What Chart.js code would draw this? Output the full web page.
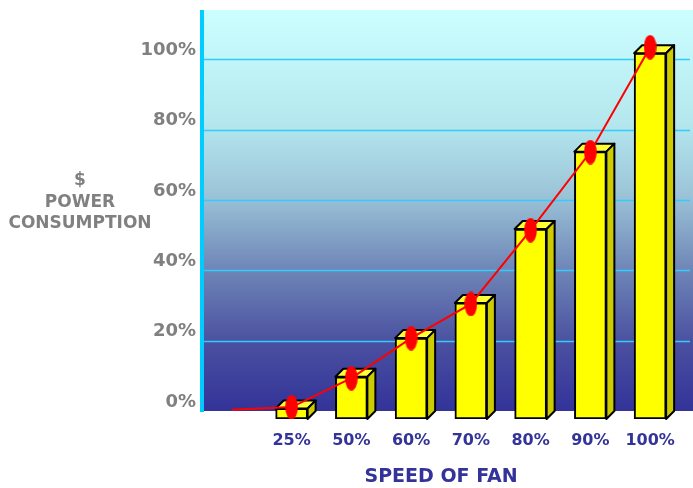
<!DOCTYPE html>
<html lang="en">
  <head>
    <meta charset="UTF-8" />
    <title>Power consumption vs speed of fan</title>
    <style>
      body {
        margin: 0;
        background: white;
      }
      .wrap {
        width: 693px;
        height: 488px;
      }
    </style>
  </head>
  <body>
    <div class="wrap"><canvas id="fanChart" width="693" height="488"></canvas></div>

    <script src="https://cdn.jsdelivr.net/npm/chart.js"></script>
    <script>
      // Fan speed categories (first slot is where the curve starts)
      const speedLabels = ["", "25%", "50%", "60%", "70%", "80%", "90%", "100%"];
      // Bar heights (power consumption, %)
      const barValues = [null, 3, 12, 23, 33, 54, 76, 104];
      // Red curve through the bar tops
      const curveValues = [2.6, 3.4, 11.6, 23, 32.7, 53.7, 75.9, 105.7];
      // Axis ticks
      const yTicks = [0, 20, 40, 60, 80, 100];
      const yMax = 114;
      const yTitleLines = ["$", "POWER", "CONSUMPTION"];

      const DEPTH = 8;
      const GREY = "#808080";
      const NAVY = "#333399";

      // red oval marker
      const marker = document.createElement("canvas");
      marker.width = 13;
      marker.height = 25;
      const mctx = marker.getContext("2d");
      mctx.fillStyle = "#ff0000";
      mctx.beginPath();
      mctx.ellipse(6.5, 12.5, 6.3, 12.3, 0, 0, Math.PI * 2);
      mctx.fill();

      // back wall: gradient, gridlines, cyan axis line, axis title
      const wallPlugin = {
        id: "wall",
        beforeDatasetsDraw(chart) {
          const { ctx, chartArea } = chart;
          const y = chart.scales.y;
          const top = chartArea.top - DEPTH;
          const bottom = chartArea.bottom - DEPTH;
          ctx.save();
          const g = ctx.createLinearGradient(0, top, 0, bottom);
          g.addColorStop(0, "#ccffff");
          g.addColorStop(0.28, "#b4e8ee");
          g.addColorStop(0.46, "#9cc4d8");
          g.addColorStop(0.64, "#7088b8");
          g.addColorStop(0.83, "#4a50a0");
          g.addColorStop(1, "#333399");
          ctx.fillStyle = g;
          ctx.fillRect(chartArea.left, top, chart.width - chartArea.left, bottom - top);

          ctx.strokeStyle = "#33ccff";
          ctx.lineWidth = 1.5;
          yTicks.forEach((v) => {
            if (v === 0) return;
            const py = Math.round(y.getPixelForValue(v) - DEPTH) + 0.5;
            ctx.beginPath();
            ctx.moveTo(chartArea.left, py);
            ctx.lineTo(chart.width - 3, py);
            ctx.stroke();
          });

          ctx.fillStyle = "#00ccff";
          ctx.fillRect(chartArea.left - 2, top, 4, bottom - top + 1);
          ctx.restore();
        },
        afterDraw(chart) {
          const { ctx } = chart;
          ctx.save();
          ctx.fillStyle = GREY;
          ctx.font = "bold 17px 'DejaVu Sans'";
          ctx.textAlign = "center";
          ctx.textBaseline = "middle";
          yTitleLines.forEach((line, i) => {
            ctx.fillText(line, 80, 181 + i * 21.5);
          });
          ctx.restore();
        },
      };

      // 3D top and side faces of each bar
      const boxPlugin = {
        id: "box3d",
        afterDatasetDraw(chart, args) {
          if (args.index !== 1) return;
          const { ctx } = chart;
          ctx.save();
          ctx.lineWidth = 2;
          ctx.lineJoin = "round";
          ctx.strokeStyle = "#000";
          args.meta.data.forEach((bar, i) => {
            if (barValues[i] == null) return;
            const p = bar.getProps(["x", "y", "base", "width"], true);
            const l = p.x - p.width / 2;
            const r = p.x + p.width / 2;
            // top
            ctx.beginPath();
            ctx.moveTo(l, p.y);
            ctx.lineTo(l + DEPTH, p.y - DEPTH);
            ctx.lineTo(r + DEPTH, p.y - DEPTH);
            ctx.lineTo(r, p.y);
            ctx.closePath();
            ctx.fillStyle = "#ffff33";
            ctx.fill();
            ctx.stroke();
            // side
            ctx.beginPath();
            ctx.moveTo(r, p.y);
            ctx.lineTo(r + DEPTH, p.y - DEPTH);
            ctx.lineTo(r + DEPTH, p.base - DEPTH);
            ctx.lineTo(r, p.base);
            ctx.closePath();
            ctx.fillStyle = "#cccc00";
            ctx.fill();
            ctx.stroke();
          });
          ctx.restore();
        },
      };

      new Chart(document.getElementById("fanChart"), {
        data: {
          labels: speedLabels,
          datasets: [
            {
              type: "line",
              data: curveValues,
              borderColor: "#ff0000",
              borderWidth: 2,
              tension: 0,
              pointStyle: marker,
              pointRadius: curveValues.map((v, i) => (i === 0 ? 0 : 6)),
              order: 0,
            },
            {
              type: "bar",
              data: barValues,
              backgroundColor: "#ffff00",
              borderColor: "#000000",
              borderWidth: 2,
              borderSkipped: false,
              barThickness: 32,
              order: 1,
            },
          ],
        },
        options: {
          responsive: false,
          animation: false,
          layout: { padding: { top: 18, right: 13, left: 0, bottom: 0 } },
          plugins: {
            legend: { display: false },
            tooltip: { enabled: false },
          },
          scales: {
            x: {
              grid: { display: false, drawTicks: false },
              border: { display: false },
              ticks: {
                color: NAVY,
                padding: 12,
                font: { family: "DejaVu Sans", size: 16, weight: "bold" },
              },
              title: {
                display: true,
                text: "SPEED OF FAN",
                color: NAVY,
                padding: { top: 0, bottom: 0 },
                font: { family: "DejaVu Sans", size: 19, weight: "bold" },
              },
              afterFit(scale) {
                scale.height = 69;
              },
            },
            y: {
              min: 0,
              max: yMax,
              grid: { display: false, drawTicks: false },
              border: { display: false },
              afterBuildTicks(scale) {
                scale.ticks = yTicks.map((v) => ({ value: v }));
              },
              ticks: {
                color: GREY,
                padding: 6,
                labelOffset: -17,
                font: { family: "DejaVu Sans", size: 18, weight: "bold" },
                callback: (v) => v + "%",
              },
              afterFit(scale) {
                scale.width = 202;
              },
            },
          },
        },
        plugins: [wallPlugin, boxPlugin],
      });
    </script>
  </body>
</html>
